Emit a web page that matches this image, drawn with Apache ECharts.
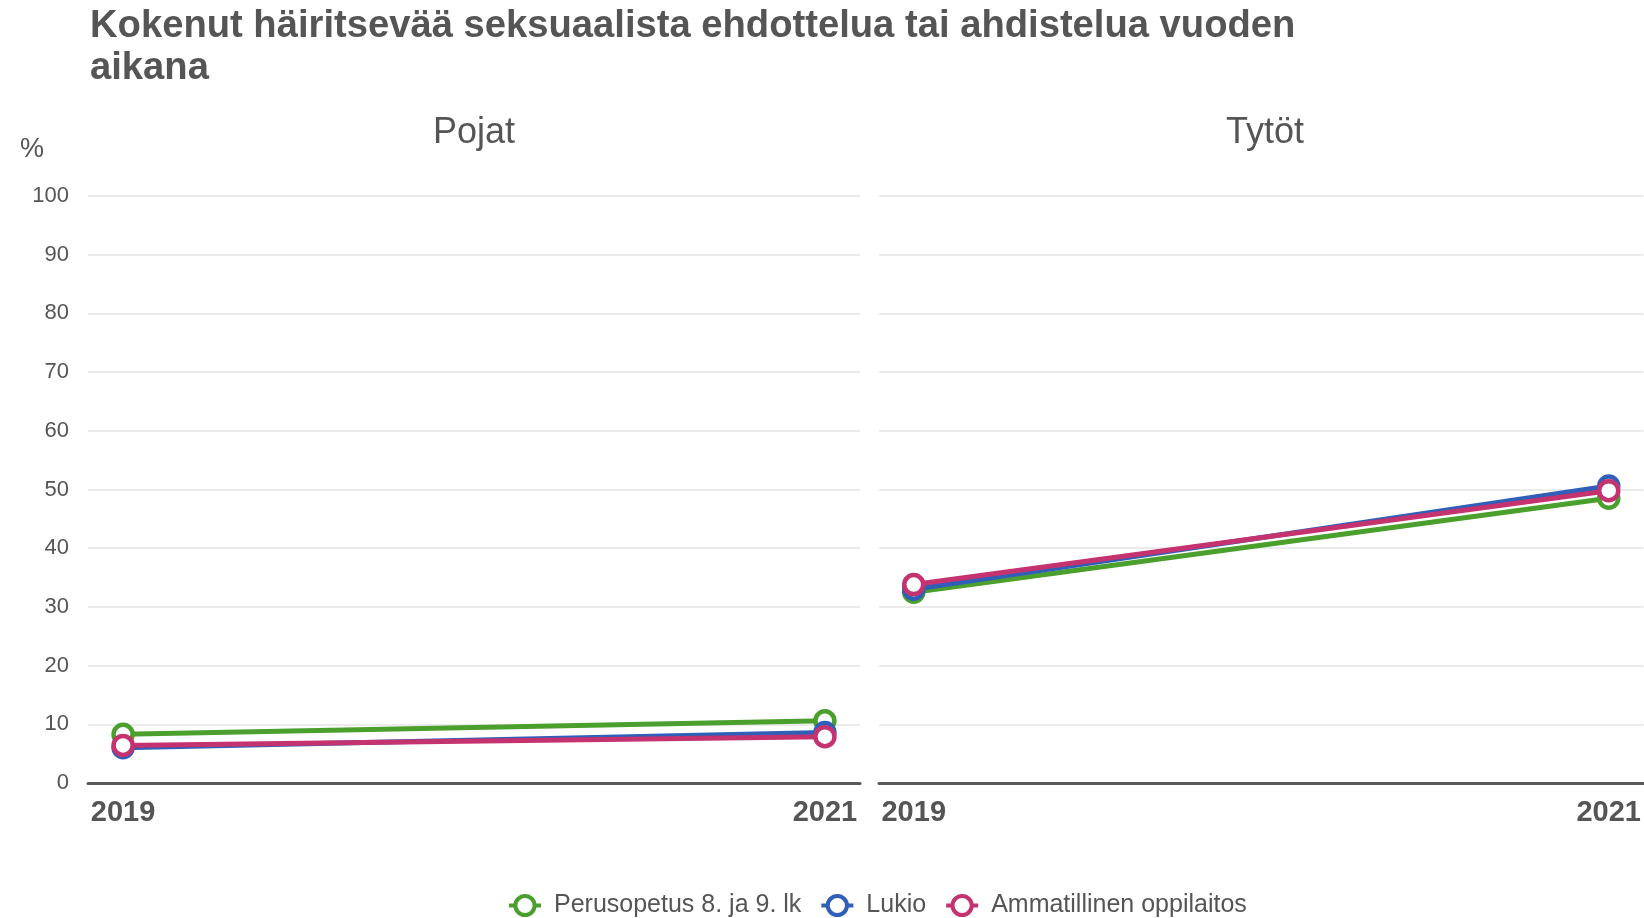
<!DOCTYPE html>
<html>
<head>
<meta charset="utf-8">
<script src="https://cdn.jsdelivr.net/npm/echarts@6/dist/echarts.min.js"></script>
<style>html,body{margin:0;padding:0;background:#fff}#c{width:1644px;height:918px}</style>
</head>
<body>
<div id="c"></div>
<script>
const years = [2019, 2021];
const panels = ['Pojat', 'Tytöt'];
const seriesNames = ['Perusopetus 8. ja 9. lk', 'Lukio', 'Ammatillinen oppilaitos'];
const colors = ['#4a9f2d', '#2f5fb8', '#c4336f'];
// values per series: [2019, 2021]
const perusPojat = [8.3, 10.6];
const perusTytot = [32.5, 48.5];
const lukioPojat = [6.0, 8.6];
const lukioTytot = [33.0, 50.6];
const ammPojat = [6.4, 7.9];
const ammTytot = [33.8, 49.8];
const yTicks = [0, 10, 20, 30, 40, 50, 60, 70, 80, 90, 100];

const dataByPanel = [
  [perusPojat, lukioPojat, ammPojat],
  [perusTytot, lukioTytot, ammTytot]
];
const textColor = '#555555';
const font = 'Liberation Sans, Arial, sans-serif';

const grids = [
  {left: 88, top: 196, width: 772, height: 587},
  {left: 879, top: 196, width: 772, height: 587}
];
const xAxes = grids.map((g, i) => ({
  type: 'value', gridIndex: i, min: 2018.9, max: 2021.1,
  splitLine: {show: false}, axisTick: {show: false},
  axisLine: {show: true, lineStyle: {color: '#5a5a5a', width: 3}},
  axisLabel: {customValues: years, formatter: v => String(v), color: textColor,
    fontFamily: font, fontSize: 29, fontWeight: 'bold', margin: 15}
}));
const yAxes = grids.map((g, i) => ({
  type: 'value', gridIndex: i, min: 0, max: 100, interval: 10,
  axisLine: {show: false}, axisTick: {show: false},
  splitLine: {show: true, lineStyle: {color: '#ebebeb', width: 2}},
  axisLabel: {show: i === 0, color: textColor, fontFamily: font, fontSize: 22, margin: 19,
    customValues: yTicks}
}));
const series = [];
panels.forEach((p, pi) => {
  seriesNames.forEach((name, si) => {
    series.push({
      type: 'line', name: name, xAxisIndex: pi, yAxisIndex: pi,
      data: years.map((y, k) => [y, dataByPanel[pi][si][k]]),
      symbol: 'circle', symbolSize: 19,
      lineStyle: {color: colors[si], width: 5},
      itemStyle: {color: '#ffffff', borderColor: colors[si], borderWidth: 4.5},
      emphasis: {disabled: true}, animation: false
    });
  });
});

const chart = echarts.init(document.getElementById('c'), null, {renderer: 'canvas'});
chart.setOption({
  backgroundColor: '#ffffff',
  animation: false,
  title: [
    {text: 'Kokenut häiritsevää seksuaalista ehdottelua tai ahdistelua vuoden\naikana', left: 85, top: 0,
      textStyle: {color: textColor, fontFamily: font, fontSize: 38.2, fontWeight: 'bold', lineHeight: 42}},
    {text: panels[0], left: 469, top: 110, textAlign: 'center',
      textStyle: {color: textColor, fontFamily: font, fontSize: 36, fontWeight: 'normal'}},
    {text: panels[1], left: 1260, top: 110, textAlign: 'center',
      textStyle: {color: textColor, fontFamily: font, fontSize: 36, fontWeight: 'normal'}},
    {text: '%', left: 15, top: 131,
      textStyle: {color: textColor, fontFamily: font, fontSize: 27, fontWeight: 'normal'}}
  ],
  legend: {
    data: seriesNames, left: 502, top: 888, itemWidth: 32, itemHeight: 24, itemGap: 18,
    lineStyle: {width: 4},
    itemStyle: {borderWidth: 4},
    textStyle: {color: textColor, fontFamily: font, fontSize: 25, padding: [0, 0, 0, 8]}
  },
  grid: grids,
  xAxis: xAxes,
  yAxis: yAxes,
  series: series
});
</script>
</body>
</html>
